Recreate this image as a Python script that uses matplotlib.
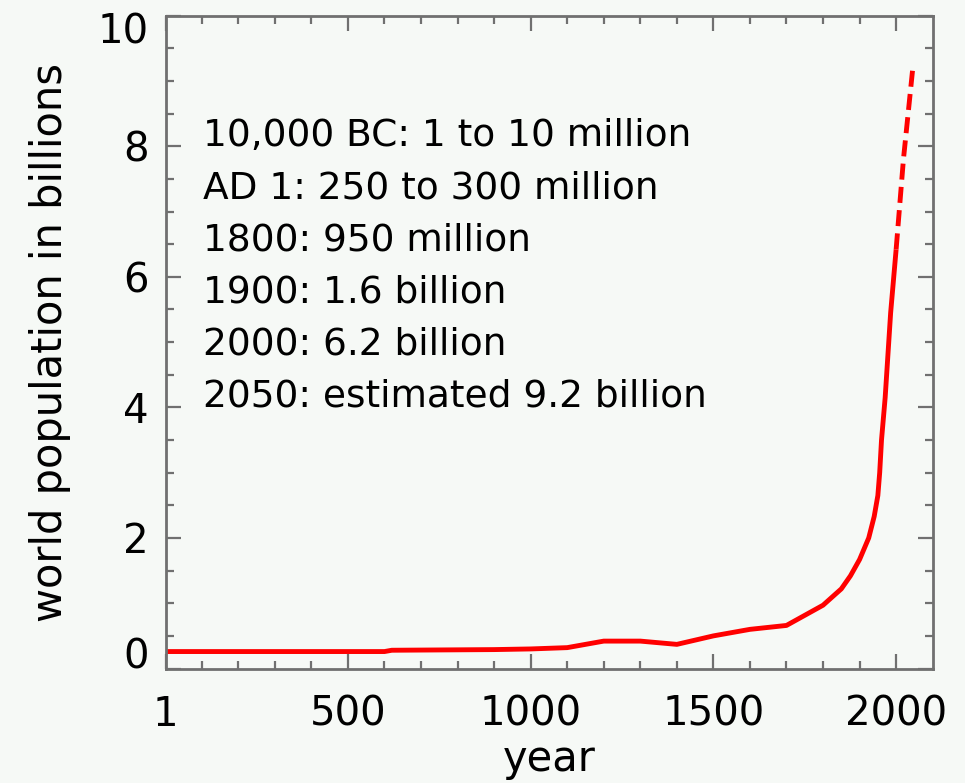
import matplotlib
matplotlib.use("Agg")
import matplotlib.pyplot as plt
from matplotlib.ticker import FixedLocator, MultipleLocator
import matplotlib.transforms as mtransforms

# historical estimates (billions)
years = [1, 600, 620, 900, 1000, 1100, 1200, 1300, 1400, 1500, 1600, 1700,
         1800, 1850, 1875, 1900, 1925, 1940, 1950, 1955, 1960, 1970, 1985, 2000]
population = [0.26, 0.26, 0.28, 0.29, 0.30, 0.32, 0.42, 0.42, 0.37, 0.50,
              0.60, 0.66, 0.97, 1.22, 1.42, 1.67, 2.00, 2.33, 2.65, 3.00,
              3.50, 4.15, 5.45, 6.42]
# projection
proj_years = [2000, 2020, 2046]
proj_population = [6.42, 7.80, 9.22]

x_ticks = [1, 500, 1000, 1500, 2000]
x_ticklabels = ["1", "500", "1000", "1500", "2000"]
y_ticks = [0, 2, 4, 6, 8, 10]

notes = ["10,000 BC: 1 to 10 million",
         "AD 1: 250 to 300 million",
         "1800: 950 million",
         "1900: 1.6 billion",
         "2000: 6.2 billion",
         "2050: estimated 9.2 billion"]

bg = "#f6f9f6"
spine_c = "#707070"

fig = plt.figure(figsize=(9.65, 7.83), dpi=100, facecolor=bg)
ax = fig.add_axes([0.1716, 0.1462, 0.7949, 0.8338])
ax.set_facecolor(bg)

ax.plot(years, population, color="#ff0000", lw=3.5, solid_capstyle="butt",
        solid_joinstyle="round")
ax.plot(proj_years, proj_population, color="#ff0000", lw=3.5,
        dashes=(3.3, 1.5))

ax.set_xlim(1, 2100)
ax.set_ylim(0, 10)

ax.xaxis.set_major_locator(FixedLocator(x_ticks))
ax.set_xticklabels(x_ticklabels)
ax.xaxis.set_minor_locator(FixedLocator([100 * i for i in range(1, 21)]))
ax.yaxis.set_major_locator(FixedLocator(y_ticks))
ax.yaxis.set_minor_locator(MultipleLocator(0.5))

for s in ax.spines.values():
    s.set_color(spine_c)
    s.set_linewidth(2.0)

ax.tick_params(which="both", direction="in", top=True, right=True,
               color=spine_c, width=1.6, labelsize=29, labelcolor="black")
ax.tick_params(which="major", length=11)
ax.tick_params(which="minor", length=5.5)
ax.tick_params(axis="x", which="major", pad=19)
ax.tick_params(axis="y", which="major", pad=12)

ax.set_xlabel("year", fontsize=30, labelpad=2)
ax.set_ylabel("world population in billions", fontsize=30, labelpad=19)

# shift the extreme y labels inward like the original
yt = ax.yaxis.get_major_ticks()
lab0 = yt[0].label1
lab0.set_transform(lab0.get_transform() +
                   mtransforms.ScaledTranslation(0, 0.16, fig.dpi_scale_trans))
labn = yt[-1].label1
labn.set_transform(labn.get_transform() +
                   mtransforms.ScaledTranslation(0, -0.12, fig.dpi_scale_trans))

y0 = 8.16
for i, t in enumerate(notes):
    ax.text(103, y0 - 0.8 * i, t, fontsize=27, ha="left", va="center",
            color="black")

fig.savefig("out.png", dpi=100, facecolor=bg)
